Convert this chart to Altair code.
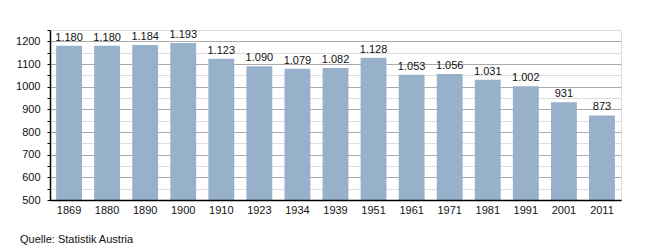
import altair as alt
import pandas as pd

years = ["1869", "1880", "1890", "1900", "1910", "1923", "1934", "1939", "1951",
         "1961", "1971", "1981", "1991", "2001", "2011"]
values = [1180, 1180, 1184, 1193, 1123, 1090, 1079, 1082, 1128, 1053, 1056, 1031, 1002, 931, 873]
labels = ["1.180", "1.180", "1.184", "1.193", "1.123", "1.090", "1.079", "1.082", "1.128",
          "1.053", "1.056", "1.031", "1.002", "931", "873"]
tick_values = list(range(500, 1251, 50))
source_text = ["Quelle: Statistik Austria"]

df = pd.DataFrame({"year": years, "value": values, "label": labels})

FONT = "Liberation Sans"

x = alt.X("year:N", sort=years, title=None,
          scale=alt.Scale(paddingInner=0.32, paddingOuter=0.16),
          axis=alt.Axis(labelAngle=0, ticks=False, labelPadding=4, labelFontSize=11,
                        labelFont=FONT, labelColor="#111", domainColor="#000",
                        domainWidth=1.5, grid=False, zindex=1))
y = alt.Y("value:Q", title=None,
          scale=alt.Scale(domain=[500, 1250], nice=False, zero=False),
          axis=alt.Axis(values=tick_values, labelOverlap=False,
                        labelExpr="datum.value % 100 == 0 && datum.value < 1250 ? datum.label : ''",
                        labelFontSize=11, labelFont=FONT, labelColor="#111",
                        tickSize=3, tickColor="#000", domainColor="#000", domainWidth=1.5,
                        labelPadding=7, grid=True, zindex=0,
                        gridColor={"condition": {"test": "datum.value % 100 == 0", "value": "#aaaaaa"}, "value": "#dddddd"},
                        format="d"))

bars = alt.Chart(df).mark_bar(color="#98b1cb", clip=True).encode(x=x, y=y, y2=alt.datum(500))

text = alt.Chart(df).mark_text(baseline="bottom", dy=-3, fontSize=11, font=FONT, color="#111").encode(
    x=x, y=y, text="label:N")

src = alt.Chart(pd.DataFrame({"t": source_text})).mark_text(
    align="left", baseline="middle", fontSize=11, font=FONT, color="#111").encode(
    x=alt.value(-30), y=alt.value(210), text="t:N")

chart = alt.layer(bars, text, src).properties(
    width=571, height=170,
    autosize=alt.AutoSizeParams(type="none"),
    padding={"left": 50, "top": 30, "right": 29, "bottom": 50},
).configure_view(stroke=None).configure(background="white")

chart.save("out.html", embed_options={"renderer": "svg", "actions": False})
